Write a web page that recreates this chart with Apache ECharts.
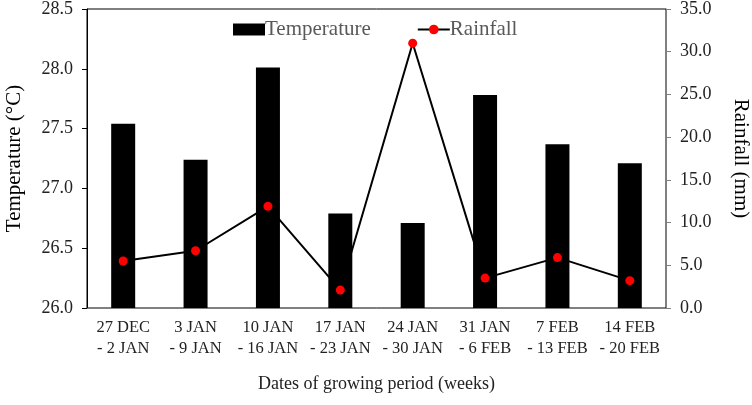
<!DOCTYPE html>
<html><head><meta charset="utf-8">
<script src="https://cdn.jsdelivr.net/npm/echarts@6/dist/echarts.min.js"></script>
<style>html,body{margin:0;padding:0;background:#fff}#c{width:752px;height:405px}</style>
</head><body><div id="c"></div>
<script>
var categories = ['27 DEC\n- 2 JAN','3 JAN\n- 9 JAN','10 JAN\n- 16 JAN','17 JAN\n- 23 JAN','24 JAN\n- 30 JAN','31 JAN\n- 6 FEB','7 FEB\n- 13 FEB','14 FEB\n- 20 FEB'];
var temperature = [27.54, 27.24, 28.01, 26.79, 26.71, 27.78, 27.37, 27.21];
var rainfall = [5.5, 6.7, 11.9, 2.1, 31.0, 3.5, 5.9, 3.2];
var tempTicks = [26.0, 28.5, 0.5];
var rainTicks = [0, 35, 5];

var font = 'Liberation Serif';
var chart = echarts.init(document.getElementById('c'));
chart.setOption({
  animation: false,
  textStyle: {fontFamily: font},
  legend: {
    top: 14, left: 228, itemGap: 46, itemWidth: 32, itemHeight: 12,
    textStyle: {fontFamily: font, fontSize: 21, color: '#595959', padding: [0,0,0,-5]},
    data: [{name: 'Temperature', icon: 'rect'}, {name: 'Rainfall'}]
  },
  grid: {left: 87, right: 86, top: 9, bottom: 97, show: true, borderColor: '#000', borderWidth: 1, outerBoundsMode: 'none', containLabel: false},
  xAxis: {
    type: 'category', data: categories,
    axisLine: {lineStyle: {color: '#808080', width: 1}},
    axisTick: {alignWithLabel: true, length: 5, lineStyle: {color: '#808080'}},
    axisLabel: {fontFamily: font, fontSize: 16.5, color: '#222', lineHeight: 21, margin: 9, interval: 0},
    name: 'Dates of growing period (weeks)', nameLocation: 'middle', nameGap: 67,
    nameTextStyle: {fontFamily: font, fontSize: 18, color: '#222'}
  },
  yAxis: [{
    type: 'value', min: tempTicks[0], max: tempTicks[1], interval: tempTicks[2],
    axisLine: {show: true, lineStyle: {color: '#000'}},
    axisTick: {show: true, length: 5, lineStyle: {color: '#000'}},
    splitLine: {show: false},
    axisLabel: {fontFamily: font, fontSize: 18, color: '#222', margin: 14, formatter: function(v){return v.toFixed(1);}},
    name: 'Temperature (°C)', nameLocation: 'middle', nameGap: 62, nameRotate: 90,
    nameTextStyle: {fontFamily: font, fontSize: 21, color: '#000'}
  }, {
    type: 'value', min: rainTicks[0], max: rainTicks[1], interval: rainTicks[2], position: 'right',
    axisLine: {show: true, lineStyle: {color: '#808080'}},
    axisTick: {show: true, length: 5, lineStyle: {color: '#808080'}},
    splitLine: {show: false},
    axisLabel: {fontFamily: font, fontSize: 18, color: '#222', margin: 14, formatter: function(v){return v.toFixed(1);}},
    name: 'Rainfall (mm)', nameLocation: 'middle', nameGap: 64, nameRotate: -90,
    nameTextStyle: {fontFamily: font, fontSize: 21, color: '#000'}
  }],
  series: [{
    name: 'Temperature', type: 'bar', yAxisIndex: 0, data: temperature,
    barWidth: 24, itemStyle: {color: '#000'}
  }, {
    name: 'Rainfall', type: 'line', yAxisIndex: 1, data: rainfall,
    symbol: 'circle', symbolSize: 9,
    lineStyle: {color: '#000', width: 2},
    itemStyle: {color: '#ff0000', borderWidth: 0}
  }]
});
</script></body></html>
